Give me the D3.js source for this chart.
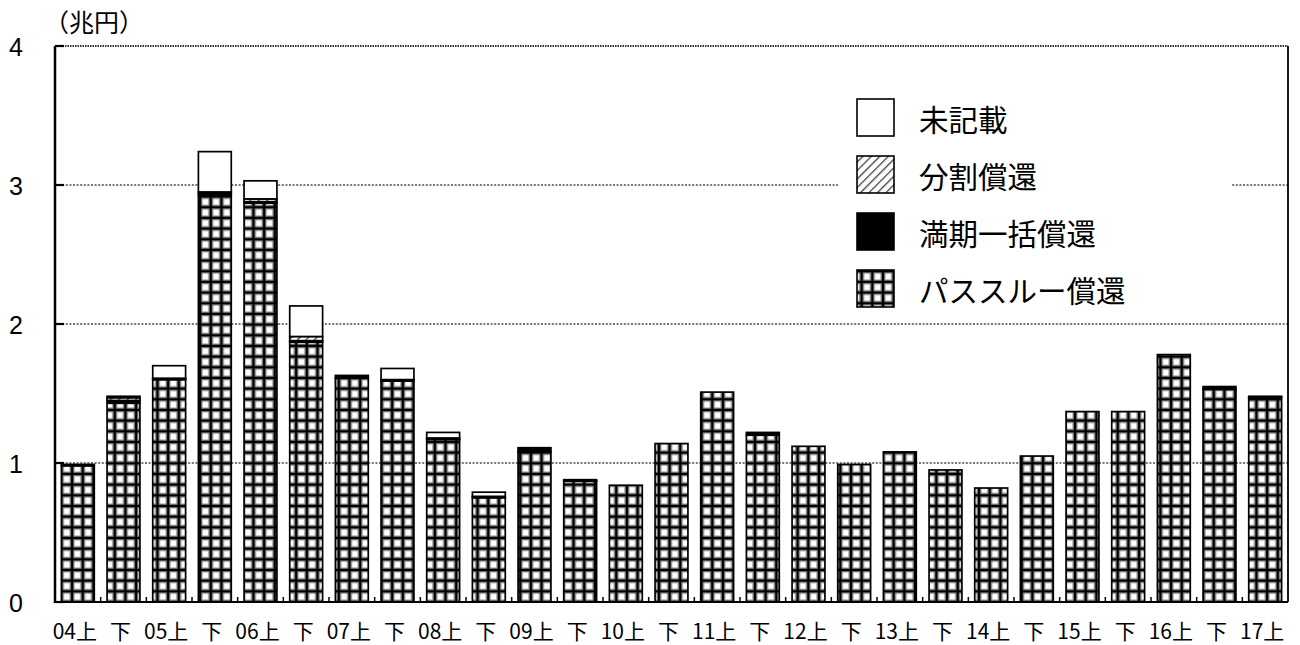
<!DOCTYPE html>
<html><head><meta charset="utf-8">
<script src="https://cdn.jsdelivr.net/npm/d3@7"></script>
<style>
html,body{margin:0;padding:0;background:#fff;}
svg{display:block;font-family:"Noto Sans CJK JP","Noto Sans",sans-serif;}
</style></head>
<body>
<svg id="chart" width="1300" height="645"></svg>
<script>
const categories = ["04上","下","05上","下","06上","下","07上","下","08上","下","09上","下","10上","下","11上","下","12上","下","13上","下","14上","下","15上","下","16上","下","17上"];
const passThrough = [0.98,1.43,1.60,2.93,2.87,1.87,1.61,1.59,1.17,0.75,1.08,0.87,0.84,1.14,1.51,1.20,1.12,0.99,1.08,0.95,0.82,1.05,1.37,1.37,1.78,1.53,1.47];
const bullet      = [0.01,0.02,0.01,0.02,0.01,0.01,0.02,0.01,0.01,0.01,0.03,0.01,0,0,0,0.02,0,0,0,0,0,0,0,0,0,0.02,0.01];
const amortizing  = [0,0.02,0,0,0.02,0.03,0,0,0,0,0,0,0,0,0,0,0,0,0,0,0,0,0,0,0,0,0];
const unknown     = [0,0.01,0.09,0.29,0.13,0.22,0,0.08,0.04,0.03,0,0,0,0,0,0,0,0,0,0,0,0,0,0,0,0,0];
const seriesKeys  = ["pass","bullet","amort","unknown"];
const seriesNames = {unknown:"未記載", amort:"分割償還", bullet:"満期一括償還", pass:"パススルー償還"};
const legendOrder = ["unknown","amort","bullet","pass"];
const yTicks = [0,1,2,3,4];
const unitLabel = "（兆円）";

const rows = categories.map((c,i)=>({cat:c, i:i, pass:passThrough[i], bullet:bullet[i], amort:amortizing[i], unknown:unknown[i]}));

const svg = d3.select("#chart");
const L = 55, R = 1288, T = 46, B = 602;

// patterns
const defs = svg.append("defs");
const cs = 10.67;
const gp = defs.append("pattern").attr("id","grid").attr("patternUnits","userSpaceOnUse")
  .attr("width",cs).attr("height",cs).attr("x",61.4).attr("y",B);
gp.append("rect").attr("width",cs).attr("height",cs).attr("fill","#fff");
gp.append("path").attr("d",`M0,0H${cs}M0,0V${cs}M0,${cs}H${cs}M${cs},0V${cs}`).attr("stroke","#8f8f8f").attr("stroke-width",5).attr("fill","none");
gp.append("path").attr("d",`M0,0H${cs}M0,0V${cs}M0,${cs}H${cs}M${cs},0V${cs}`).attr("stroke","#000").attr("stroke-width",2.4).attr("fill","none");

const hp = defs.append("pattern").attr("id","hatch").attr("patternUnits","userSpaceOnUse")
  .attr("width",6).attr("height",6).attr("patternTransform","rotate(45)");
hp.append("rect").attr("width",6).attr("height",6).attr("fill","#fff");
hp.append("line").attr("x1",0).attr("y1",0).attr("x2",0).attr("y2",6).attr("stroke","#8a8a8a").attr("stroke-width",3);
hp.append("line").attr("x1",0).attr("y1",0).attr("x2",0).attr("y2",6).attr("stroke","#111").attr("stroke-width",1.2);

const fills = {pass:"url(#grid)", bullet:"#000", amort:"url(#hatch)", unknown:"#fff"};

const x = d3.scaleBand().domain(d3.range(categories.length)).range([L,R]).paddingInner(0.28).paddingOuter(0.14);
const y = d3.scaleLinear().domain([0,4]).range([B,T]);

// gridlines
svg.append("g").selectAll("line").data(yTicks.filter(v=>v>0 && v<4)).join("line")
  .attr("x1",L).attr("x2",R).attr("y1",d=>y(d)).attr("y2",d=>y(d))
  .attr("stroke","#777").attr("stroke-width",2).attr("stroke-dasharray","2,1.6");
// top border (dotted)
svg.append("line").attr("x1",L).attr("x2",R).attr("y1",y(4)).attr("y2",y(4))
  .attr("stroke","#333").attr("stroke-width",2).attr("stroke-dasharray","1.5,1");

// bars
const stack = d3.stack().keys(seriesKeys)(rows);
const gBars = svg.append("g");
stack.forEach(layer=>{
  gBars.append("g").selectAll("rect")
    .data(layer.filter(d=>d[1]-d[0]>0).map(d=>({d:d,key:layer.key})))
    .join("rect")
    .attr("x",o=>x(o.d.data.i))
    .attr("width",x.bandwidth())
    .attr("y",o=>y(o.d[1]))
    .attr("height",o=>y(o.d[0])-y(o.d[1]))
    .attr("fill",fills[layer.key])
    .attr("stroke","#000").attr("stroke-width",1.7);
});

// axes
svg.append("line").attr("x1",L).attr("x2",L).attr("y1",T).attr("y2",B+1).attr("stroke","#000").attr("stroke-width",2.5);
svg.append("line").attr("x1",R).attr("x2",R).attr("y1",T).attr("y2",B).attr("stroke","#000").attr("stroke-width",1.8);
svg.append("line").attr("x1",L).attr("x2",R).attr("y1",B).attr("y2",B).attr("stroke","#000").attr("stroke-width",2.2);
// y ticks
svg.append("g").selectAll("line").data(yTicks).join("line")
  .attr("x1",L).attr("x2",L+9).attr("y1",d=>y(d)).attr("y2",d=>y(d)).attr("stroke","#000").attr("stroke-width",2.2);
svg.append("g").selectAll("text").data(yTicks).join("text")
  .attr("x",16).attr("y",d=>y(d)+1).attr("text-anchor","middle").attr("dominant-baseline","central")
  .attr("font-size",25).attr("font-family","Liberation Sans, Arial, sans-serif").text(d=>d);
// x ticks at band boundaries
const step = x.step();
const bounds = d3.range(1,categories.length).map(k=>x(k) - x.paddingInner()*step/2);
svg.append("g").selectAll("line").data(bounds).join("line")
  .attr("x1",d=>d).attr("x2",d=>d).attr("y1",B).attr("y2",B-5).attr("stroke","#000").attr("stroke-width",1.5);
svg.append("g").selectAll("text").data(categories).join("text")
  .attr("x",(d,i)=>x(i)+x.bandwidth()/2 - 3).attr("y",639).attr("text-anchor","middle")
  .attr("font-size",21).text(d=>d);

// unit label
svg.append("text").attr("x",44).attr("y",32).attr("font-size",25).text(unitLabel);

// legend
const lg = svg.append("g");
lg.append("rect").attr("x",838).attr("y",90).attr("width",394).attr("height",228).attr("fill","#fff");
legendOrder.forEach((k,j)=>{
  const ty = 99 + j*57;
  lg.append("rect").attr("x",857).attr("y",ty).attr("width",37).attr("height",37)
    .attr("fill",fills[k]).attr("stroke","#000").attr("stroke-width",1.6);
  lg.append("text").attr("x",919).attr("y",ty+19).attr("dominant-baseline","central")
    .attr("font-size",29.5).text(seriesNames[k]);
});
</script>
</body></html>
